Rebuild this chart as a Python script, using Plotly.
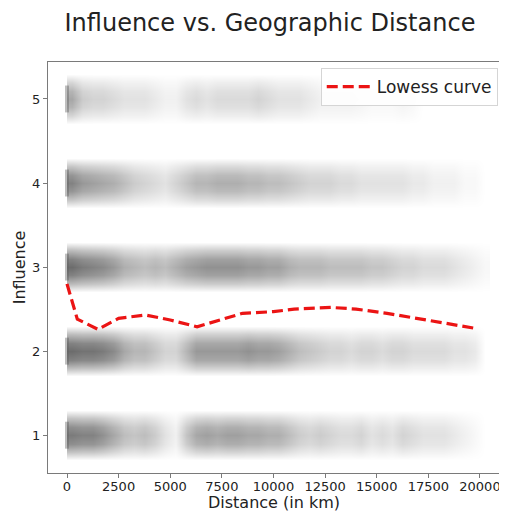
import plotly.graph_objects as go

# ---- data ----
INFLUENCE_LEVELS = [1, 2, 3, 4, 5]
DIST_EDGES = list(range(0, 20501, 500))  # km, bin edges (41 bins of 500 km)

# relative point density (0..1) of the scatter cloud per 500 km bin
DENSITY_1 = [0.9, 0.85, 0.85, 0.75, 0.6, 0.45, 0.4, 0.45, 0.35, 0.2, 0.1, 0.4, 0.6, 0.65, 0.6, 0.65, 0.65, 0.6, 0.6, 0.55,
             0.55, 0.45, 0.35, 0.3, 0.35, 0.3, 0.25, 0.25, 0.3, 0.2, 0.25, 0.2, 0.3, 0.25, 0.2, 0.2, 0.2, 0.15, 0.1, 0.05, 0.0]
DENSITY_2 = [1.0, 0.95, 0.95, 0.9, 0.8, 0.6, 0.5, 0.5, 0.4, 0.3, 0.3, 0.5, 0.7, 0.7, 0.7, 0.7, 0.7, 0.75, 0.7, 0.7,
             0.65, 0.55, 0.45, 0.4, 0.35, 0.3, 0.3, 0.25, 0.3, 0.3, 0.25, 0.3, 0.3, 0.25, 0.25, 0.25, 0.25, 0.2, 0.2, 0.15, 0.0]
DENSITY_3 = [1.0, 0.9, 0.85, 0.8, 0.7, 0.55, 0.5, 0.45, 0.5, 0.45, 0.55, 0.65, 0.7, 0.75, 0.75, 0.75, 0.75, 0.7, 0.7, 0.65,
             0.65, 0.55, 0.5, 0.5, 0.5, 0.45, 0.45, 0.45, 0.45, 0.4, 0.4, 0.35, 0.3, 0.3, 0.25, 0.25, 0.25, 0.2, 0.15, 0.1, 0.05]
DENSITY_4 = [0.85, 0.7, 0.65, 0.6, 0.55, 0.45, 0.35, 0.3, 0.25, 0.2, 0.3, 0.4, 0.5, 0.5, 0.55, 0.55, 0.55, 0.5, 0.5, 0.45,
             0.45, 0.4, 0.35, 0.3, 0.3, 0.3, 0.25, 0.25, 0.2, 0.2, 0.2, 0.2, 0.2, 0.15, 0.15, 0.1, 0.1, 0.1, 0.05, 0.05, 0.0]
DENSITY_5 = [0.6, 0.35, 0.3, 0.3, 0.25, 0.2, 0.2, 0.2, 0.15, 0.1, 0.1, 0.2, 0.25, 0.2, 0.25, 0.25, 0.25, 0.25, 0.3, 0.25,
             0.2, 0.2, 0.2, 0.15, 0.1, 0.1, 0.1, 0.1, 0.08, 0.05, 0.05, 0.05, 0.08, 0.05, 0.0, 0.0, 0.0, 0.0, 0.0, 0.0, 0.0]
DENSITIES = [DENSITY_1, DENSITY_2, DENSITY_3, DENSITY_4, DENSITY_5]

# many respondents at distance 0
ZERO_DISTANCE = 0

# lowess curve
LOWESS_X = [0, 500, 1500, 2500, 3800, 5000, 6300, 7500, 8500, 10000, 11000, 12800, 14000, 15500, 17500, 19800]
LOWESS_Y = [2.80, 2.38, 2.26, 2.39, 2.43, 2.37, 2.29, 2.38, 2.45, 2.47, 2.50, 2.52, 2.50, 2.45, 2.37, 2.27]

X_TICKS = [0, 2500, 5000, 7500, 10000, 12500, 15000, 17500, 20000]
Y_TICKS = [1, 2, 3, 4, 5]

# ---- vertical spread profile of the jittered points around each level ----
PROFILE_OFFSETS = [-0.3, -0.2, -0.1, 0.0, 0.1, 0.2, 0.3]
PROFILE_WEIGHTS = [0.0, 0.45, 0.85, 1.0, 0.85, 0.45, 0.0]
ROW_STEP = 0.1
rows = [round(0.5 + ROW_STEP * k, 2) for k in range(51)]
z = []
for y in rows:
    lvl = int(round(y))
    off = round(y - lvl, 2)
    w = 0.0
    if lvl in INFLUENCE_LEVELS and off in PROFILE_OFFSETS:
        w = PROFILE_WEIGHTS[PROFILE_OFFSETS.index(off)]
    dens = DENSITIES[INFLUENCE_LEVELS.index(lvl)] if lvl in INFLUENCE_LEVELS else [0] * len(DENSITY_1)
    z.append([d * w for d in dens])

FONT = "DejaVu Sans"

fig = go.Figure()
fig.add_trace(go.Heatmap(
    x=DIST_EDGES, y=rows, z=z, zmin=0, zmax=1, zsmooth="best",
    colorscale=[[0, "rgb(255,255,255)"], [1, "rgb(108,108,108)"]],
    showscale=False, hoverinfo="skip", showlegend=False,
))

for lvl in INFLUENCE_LEVELS:
    fig.add_trace(go.Scatter(
        x=[ZERO_DISTANCE, ZERO_DISTANCE], y=[lvl - 0.16, lvl + 0.16], mode="lines",
        line=dict(color="rgba(95,95,95,0.4)", width=4),
        showlegend=False, hoverinfo="skip",
    ))

fig.add_trace(go.Scatter(
    x=LOWESS_X, y=LOWESS_Y, mode="lines", name="Lowess curve",
    line=dict(color="rgb(235,20,20)", width=3.2, dash="11px,5px"),
))

axis_common = dict(
    showgrid=False, zeroline=False, showline=True, mirror=True, automargin=False,
    linecolor="#7a7a7a", linewidth=1.3, ticks="outside", ticklen=4,
    tickcolor="#7a7a7a", tickfont=dict(size=13, color="#222", family=FONT),
)
fig.update_xaxes(range=[-920, 20970], tickvals=X_TICKS, ticktext=[str(t) for t in X_TICKS],
                 ticklabelstandoff=-3,
                 title=dict(text="Distance (in km)", font=dict(size=16, color="#222", family=FONT), standoff=3),
                 **axis_common)
fig.update_yaxes(range=[0.55, 5.44], tickvals=Y_TICKS, ticktext=[str(t) for t in Y_TICKS],
                 title=dict(text="Influence", font=dict(size=16, color="#222", family=FONT), standoff=2),
                 **axis_common)

# page body has an 8px margin, so the figure is sized to the visible area
fig.update_layout(
    width=499, height=504,
    margin=dict(l=40, r=7, t=54, b=39, autoexpand=False),
    paper_bgcolor="white", plot_bgcolor="white",
    font=dict(family=FONT, color="#222"),
    title=dict(text="Influence vs. Geographic Distance", x=0.525, xanchor="center", y=0.972, yanchor="middle",
               font=dict(size=24, color="#222", family=FONT)),
    legend=dict(x=0.995, y=0.985, xanchor="right", yanchor="top", bgcolor="rgba(255,255,255,0.85)",
                bordercolor="#d5d5d5", borderwidth=1, font=dict(size=17, color="#222", family=FONT),
                itemwidth=45),
)

fig.write_html("out.html")
